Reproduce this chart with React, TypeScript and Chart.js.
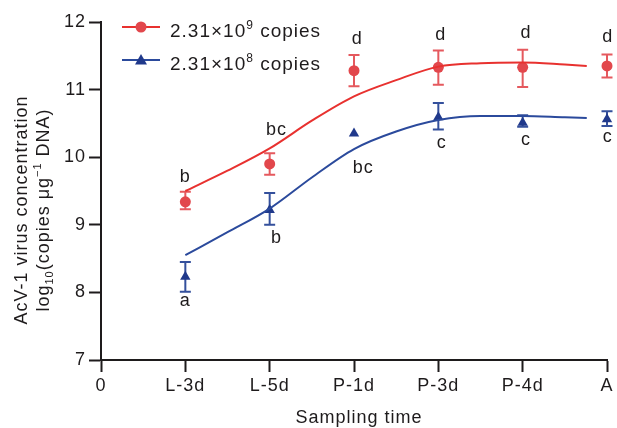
import React, { useEffect, useRef } from 'react';
import { Chart, registerables } from 'chart.js';

Chart.register(...registerables);

// ---------- data ----------
const categories = ['0', 'L-3d', 'L-5d', 'P-1d', 'P-3d', 'P-4d', 'A'];
const sampleIndex = [1, 2, 3, 4, 5, 6];

const highLabel = '2.31×10⁹ copies';
const highMean = [9.34, 9.9, 11.28, 11.33, 11.33, 11.35];
const highUpper = [9.49, 10.06, 11.51, 11.58, 11.59, 11.52];
const highLower = [9.23, 9.74, 11.05, 11.07, 11.04, 11.18];

const lowLabel = '2.31×10⁸ copies';
const lowMean = [8.23, 9.22, 10.35, 10.59, 10.51, 10.56];
const lowUpper = [8.45, 9.47, null, 10.8, 10.62, 10.68];
const lowLower = [8.01, 9.0, null, 10.41, 10.45, 10.46];

const fitX = [1, 1.5, 2, 2.5, 3, 3.5, 4, 4.5, 5, 5.5, 5.76];
const highFit = [9.5, 9.8, 10.13, 10.54, 10.9, 11.14, 11.34, 11.39, 11.4, 11.37, 11.35];
const lowFit = [8.55, 8.89, 9.24, 9.7, 10.12, 10.38, 10.55, 10.61, 10.61, 10.59, 10.58];

const highLetters = ['b', 'bc', 'd', 'd', 'd', 'd'];
const highLetterX = [1.0, 2.08, 3.04, 4.03, 5.04, 6.01];
const highLetterY = [9.71, 10.4, 11.75, 11.81, 11.83, 11.78];

const lowLetters = ['a', 'b', 'bc', 'c', 'c', 'c'];
const lowLetterX = [1.0, 2.08, 3.11, 4.04, 5.04, 6.01];
const lowLetterY = [7.87, 8.8, 9.84, 10.21, 10.25, 10.3];

const yTicks = [7, 8, 9, 10, 11, 12];

// ---------- styles ----------
const FONT = '"Liberation Sans", Arial, Helvetica, sans-serif';
const TEXT = '#1e1b1c';
const RED_LINE = '#e8312f';
const RED_PT = '#e2474c';
const RED_BAR = '#e5595e';
const BLUE_LINE = '#2b4a9c';
const BLUE_PT = '#20398b';
const BLUE_BAR = '#34509c';

const errorBarPlugin = {
  id: 'errorBars',
  beforeDatasetsDraw(chart: any) {
    const { ctx, scales } = chart;
    const xs = scales.x;
    const ys = scales.y;
    const draw = (upper: (number | null)[], lower: (number | null)[], color: string) => {
      ctx.save();
      ctx.strokeStyle = color;
      ctx.lineWidth = 2;
      sampleIndex.forEach((xv, i) => {
        const u = upper[i];
        const l = lower[i];
        if (u == null || l == null) return;
        const px = xs.getPixelForValue(xv);
        const pu = ys.getPixelForValue(u);
        const pl = ys.getPixelForValue(l);
        ctx.beginPath();
        ctx.moveTo(px, pu);
        ctx.lineTo(px, pl);
        ctx.moveTo(px - 5.5, pu);
        ctx.lineTo(px + 5.5, pu);
        ctx.moveTo(px - 5.5, pl);
        ctx.lineTo(px + 5.5, pl);
        ctx.stroke();
      });
      ctx.restore();
    };
    draw(highUpper, highLower, RED_BAR);
    draw(lowUpper, lowLower, BLUE_BAR);
  },
};

const spacingPlugin = {
  id: 'spacing',
  beforeDraw(chart: any) {
    chart.ctx.letterSpacing = '1px';
  },
};

function drawRich(ctx: any, parts: { t: string; size: number; dy: number }[], x: number, y: number, align: 'left' | 'center') {
  let total = 0;
  parts.forEach((p) => {
    ctx.font = `${p.size}px ${FONT}`;
    total += ctx.measureText(p.t).width;
  });
  let cx = align === 'center' ? x - total / 2 : x;
  ctx.textAlign = 'left';
  parts.forEach((p) => {
    ctx.font = `${p.size}px ${FONT}`;
    ctx.fillText(p.t, cx, y + p.dy);
    cx += ctx.measureText(p.t).width;
  });
}

const annotationPlugin = {
  id: 'annotations',
  afterDraw(chart: any) {
    const { ctx, scales } = chart;
    const xs = scales.x;
    const ys = scales.y;
    ctx.save();
    ctx.letterSpacing = '1px';
    ctx.fillStyle = TEXT;
    ctx.font = `18px ${FONT}`;
    ctx.textAlign = 'center';
    ctx.textBaseline = 'middle';
    highLetters.forEach((t, i) => {
      ctx.fillText(t, xs.getPixelForValue(highLetterX[i]), ys.getPixelForValue(highLetterY[i]));
    });
    lowLetters.forEach((t, i) => {
      ctx.fillText(t, xs.getPixelForValue(lowLetterX[i]), ys.getPixelForValue(lowLetterY[i]));
    });

    // legend
    const items = [
      { base: '2.31×10', sup: '9', color: RED_LINE, pt: RED_PT, style: 'circle', y: 27 },
      { base: '2.31×10', sup: '8', color: BLUE_LINE, pt: BLUE_PT, style: 'triangle', y: 60 },
    ];
    ctx.textBaseline = 'alphabetic';
    items.forEach((it) => {
      ctx.strokeStyle = it.color;
      ctx.lineWidth = 2;
      ctx.beginPath();
      ctx.moveTo(122, it.y);
      ctx.lineTo(160, it.y);
      ctx.stroke();
      ctx.fillStyle = it.pt;
      ctx.beginPath();
      if (it.style === 'circle') {
        ctx.arc(141, it.y, 5.5, 0, Math.PI * 2);
      } else {
        ctx.moveTo(141, it.y - 6);
        ctx.lineTo(147, it.y + 4.5);
        ctx.lineTo(135, it.y + 4.5);
        ctx.closePath();
      }
      ctx.fill();
      ctx.fillStyle = TEXT;
      drawRich(
        ctx,
        [
          { t: it.base, size: 19, dy: 0 },
          { t: it.sup, size: 12, dy: -8 },
          { t: ' copies', size: 19, dy: 0 },
        ],
        170,
        it.y + 10,
        'left'
      );
    });

    // x title
    ctx.font = `18px ${FONT}`;
    ctx.textAlign = 'center';
    ctx.fillText('Sampling time', 359, 423);

    // y title
    ctx.save();
    ctx.translate(0, 210);
    ctx.rotate(-Math.PI / 2);
    ctx.font = `18px ${FONT}`;
    ctx.textAlign = 'center';
    ctx.fillText('AcV-1 virus concentration', 0, 26.5);
    drawRich(
      ctx,
      [
        { t: 'log', size: 18, dy: 0 },
        { t: '10', size: 11, dy: 4 },
        { t: '(copies μg', size: 18, dy: 0 },
        { t: '−1', size: 11, dy: -8 },
        { t: ' DNA)', size: 18, dy: 0 },
      ],
      0,
      49,
      'center'
    );
    ctx.restore();
    ctx.restore();
  },
};

export default function App() {
  const ref = useRef<HTMLCanvasElement | null>(null);

  useEffect(() => {
    if (!ref.current) return;
    const axisFont = { family: FONT, size: 18 };
    const chart = new Chart(ref.current, {
      type: 'scatter',
      data: {
        datasets: [
          {
            label: highLabel + ' fit',
            data: fitX.map((x, i) => ({ x, y: highFit[i] })),
            showLine: true,
            borderColor: RED_LINE,
            borderWidth: 2,
            pointRadius: 0,
            cubicInterpolationMode: 'monotone',
            fill: false,
          },
          {
            label: lowLabel + ' fit',
            data: fitX.map((x, i) => ({ x, y: lowFit[i] })),
            showLine: true,
            borderColor: BLUE_LINE,
            borderWidth: 2,
            pointRadius: 0,
            cubicInterpolationMode: 'monotone',
            fill: false,
          },
          {
            label: highLabel,
            data: sampleIndex.map((x, i) => ({ x, y: highMean[i] })),
            showLine: false,
            pointStyle: 'circle',
            pointRadius: 5.5,
            backgroundColor: RED_PT,
            borderColor: RED_PT,
            borderWidth: 0,
            clip: false,
          },
          {
            label: lowLabel,
            data: sampleIndex.map((x, i) => ({ x, y: lowMean[i] })),
            showLine: false,
            pointStyle: 'triangle',
            pointRadius: 6,
            backgroundColor: BLUE_PT,
            borderColor: BLUE_PT,
            borderWidth: 0,
            clip: false,
          },
        ],
      } as any,
      options: {
        responsive: false,
        animation: false,
        events: [],
        layout: { padding: { left: 0, right: 10, top: 22, bottom: 0 } },
        plugins: { legend: { display: false }, tooltip: { enabled: false } },
        scales: {
          x: {
            type: 'linear',
            min: 0,
            max: categories.length - 1,
            afterFit(s: any) {
              s.height = 68;
            },
            afterBuildTicks(s: any) {
              s.ticks = categories.map((_, i) => ({ value: i }));
            },
            ticks: {
              callback: (v: any) => categories[Math.round(Number(v))],
              color: TEXT,
              font: axisFont,
              padding: 3,
              autoSkip: false,
              maxRotation: 0,
            },
            grid: { drawOnChartArea: false, drawTicks: true, tickLength: 12, tickColor: TEXT, tickWidth: 2 },
            border: { display: true, color: TEXT, width: 2 },
          },
          y: {
            type: 'linear',
            min: yTicks[0],
            max: yTicks[yTicks.length - 1],
            afterFit(s: any) {
              s.width = 101;
            },
            afterBuildTicks(s: any) {
              s.ticks = yTicks.map((v) => ({ value: v }));
            },
            ticks: { color: TEXT, font: axisFont, padding: 3 },
            grid: { drawOnChartArea: false, drawTicks: true, tickLength: 12, tickColor: TEXT, tickWidth: 2 },
            border: { display: true, color: TEXT, width: 2 },
          },
        },
      } as any,
      plugins: [spacingPlugin, errorBarPlugin, annotationPlugin],
    });
    return () => chart.destroy();
  }, []);

  return (
    <div style={{ position: 'absolute', left: 0, top: 0, width: 617, height: 428, background: '#fff' }}>
      <canvas ref={ref} width={617} height={428} style={{ display: 'block' }} />
    </div>
  );
}
